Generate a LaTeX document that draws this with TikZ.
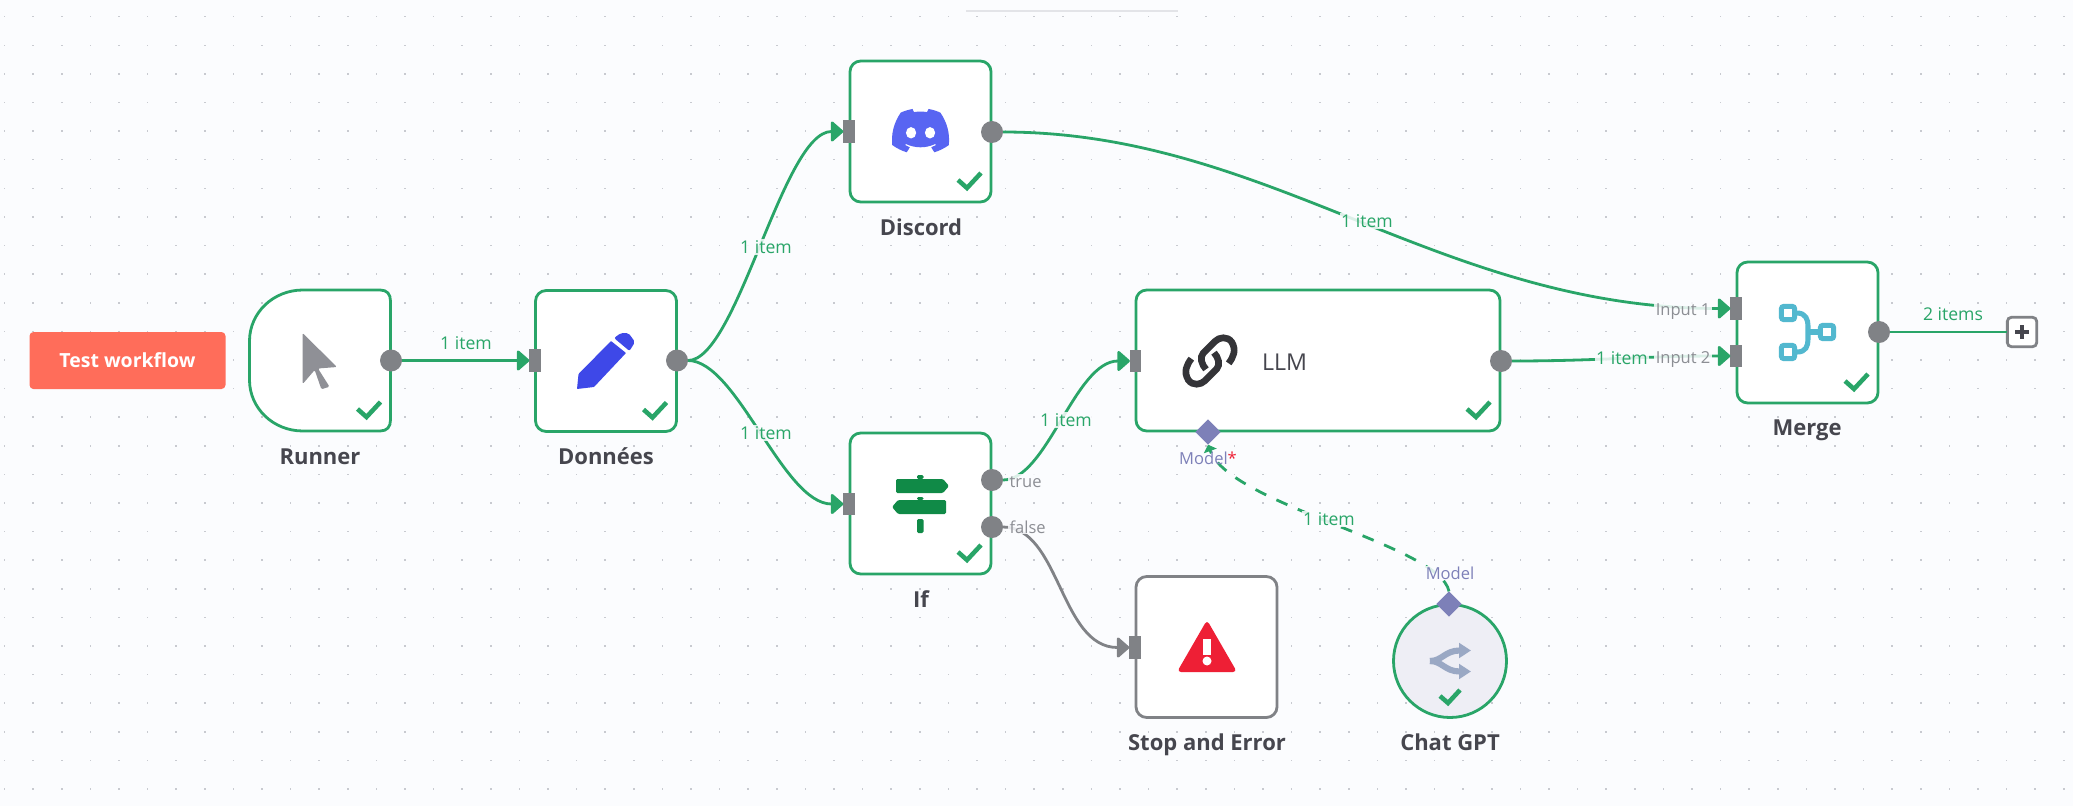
\documentclass[tikz,border=0pt]{standalone}
\usepackage{fontspec}
\setmainfont{Open Sans}
\usetikzlibrary{arrows.meta,shapes.geometric}
\definecolor{canvasbg}{RGB}{251,252,254}
\definecolor{griddot}{RGB}{200,202,208}
\definecolor{okgreen}{RGB}{41,165,104}
\definecolor{portgrey}{RGB}{128,130,134}
\definecolor{titledark}{RGB}{70,70,78}
\definecolor{portlabel}{RGB}{140,142,148}
\definecolor{modelblue}{RGB}{125,128,184}
\definecolor{btnred}{RGB}{255,109,90}
\definecolor{cursorgrey}{RGB}{143,144,150}
\definecolor{pencilblue}{RGB}{62,72,232}
\definecolor{discordblue}{RGB}{88,101,242}
\definecolor{signgreen}{RGB}{16,138,71}
\definecolor{alertred}{RGB}{238,31,53}
\definecolor{mergeblue}{RGB}{82,184,207}
\definecolor{splitblue}{RGB}{154,168,196}
\definecolor{chatfill}{RGB}{238,238,245}
\definecolor{linkdark}{RGB}{52,52,56}
\tikzset{
  nodebox/.style={draw=okgreen,line width=2.1pt,fill=white,rounded corners=8pt,minimum width=105.75pt,minimum height=105.75pt,outer sep=0pt,inner sep=0pt},
  outdot/.style={circle,fill=portgrey,minimum size=16.5pt,inner sep=0pt,outer sep=0pt},
  inbar/.style={rectangle,fill=portgrey,minimum width=8.5pt,minimum height=17pt,inner sep=0pt,outer sep=0pt},
  diamondport/.style={diamond,fill=modelblue,minimum size=19pt,inner sep=0pt,outer sep=0pt},
  wire/.style={draw=okgreen,line width=2.1pt,-{Triangle[length=10pt,width=17pt,round]}},
  title/.style={font=\bfseries\fontsize{16.5pt}{18pt}\selectfont,text=titledark,anchor=base,inner sep=0pt},
  itemlabel/.style={font=\fontsize{13.2pt}{15pt}\selectfont,text=okgreen,fill=canvasbg,fill opacity=0.85,text opacity=1,inner sep=1pt,text height=9.5pt,text depth=0pt},
  portname/.style={font=\fontsize{12.4pt}{14pt}\selectfont,text=portlabel,fill=canvasbg,fill opacity=0.85,text opacity=1,inner sep=1pt,text height=9pt,text depth=0pt},
  modelname/.style={portname,text=modelblue},
  checkline/.style={draw=okgreen,line width=3.4pt,line join=miter},
  mergesq/.style={draw=mergeblue,line width=3.8pt,fill=white,rounded corners=2pt,minimum size=10pt,inner sep=0pt,outer sep=0pt},
}
\begin{document}
\begin{tikzpicture}[x=0.75pt,y=0.75pt,yscale=-1,xscale=1]
  \fill[canvasbg] (0,0) rectangle (2073,806);
  \useasboundingbox (0,0) rectangle (2073,806);
  % grid of dots
  \foreach \i in {0,...,72}
    \foreach \j in {0,...,27}
      \fill[griddot] ({3.8+28.6*\i},{16+28.6*\j}) rectangle +(1.5,1.5);
  \draw[griddot!50,line width=1pt] (966,11) -- (1178,11);
  % button
  \node[fill=btnred,rounded corners=3pt,minimum width=147pt,minimum height=42.75pt,text=white,font=\bfseries\fontsize{14.6pt}{16pt}\selectfont] (testbtn) at (127.5,360.5) {Test workflow};
  % boxes
  \draw[draw=okgreen,line width=2.1pt,fill=white] (390.5,301) .. controls (390.5,294) and (387,290) .. (380,290) -- (303,290) .. controls (273,290) and (249.5,313) .. (249.5,341) -- (249.5,380) .. controls (249.5,408) and (273,431) .. (303,431) -- (380,431) .. controls (387,431) and (390.5,427) .. (390.5,420) -- cycle;
  \coordinate (runnerse) at (390.5,431);
  \node[nodebox] (donnees) at (606,361) {};
  \node[nodebox] (discord) at (920.5,131.5) {};
  \node[nodebox] (ifnode) at (920.5,503.5) {};
  \node[nodebox,draw=portgrey] (stopnode) at (1206.5,647) {};
  \node[nodebox,minimum width=273pt] (llm) at (1318,360.5) {};
  \node[nodebox] (merge) at (1807.5,332.5) {};
  \node[circle,draw=okgreen,line width=2.1pt,fill=chatfill,minimum size=84.75pt,inner sep=0pt,outer sep=0pt] (chatgpt) at (1450,661) {};
  % ports
  \node[outdot] (runnerout) at (391,360.5) {};
  \node[inbar] (donneesin) at (535,360.5) {};
  \node[outdot] (donneesout) at (677,360.5) {};
  \node[inbar] (discordin) at (849,131.5) {};
  \node[outdot] (discordout) at (992,132) {};
  \node[inbar] (ifin) at (849,504) {};
  \node[outdot] (iftrue) at (992,480) {};
  \node[outdot] (iffalse) at (992,527) {};
  \node[inbar] (stopin) at (1135,647.5) {};
  \node[inbar] (llmin) at (1135.5,361) {};
  \node[outdot] (llmout) at (1501,361) {};
  \node[diamondport] (llmmodel) at (1208,432) {};
  \node[diamondport] (chatmodel) at (1449,604) {};
  \node[inbar] (mergeone) at (1736,308.5) {};
  \node[inbar] (mergetwo) at (1736,356) {};
  \node[outdot] (mergeout) at (1879,332) {};
  \node[draw=portgrey,line width=2.1pt,fill=white,rounded corners=3pt,minimum size=22pt,inner sep=0pt,outer sep=0pt] (addbtn) at (2022,332) {};
  % connectors
  \draw[wire] (runnerout.east) -- (donneesin.west);
  \draw[wire] (donneesout.east) .. controls (737,360.5) and (783,131.5) .. (discordin.west);
  \draw[wire] (donneesout.east) .. controls (737,360.5) and (783,504) .. (ifin.west);
  \draw[wire] (iftrue.east) .. controls (1047,480) and (1075,361) .. (llmin.west);
  \draw[wire,draw=portgrey] (iffalse.east) .. controls (1060,527) and (1060,647.5) .. (stopin.west);
  \draw[wire] (discordout.east) .. controls (1270,132) and (1440,308.5) .. (mergeone.west);
  \draw[wire] (llmout.east) .. controls (1600,361) and (1640,356) .. (mergetwo.west);
  \draw[okgreen,line width=2.1pt] (mergeout.east) -- (addbtn.west);
  \draw[okgreen,line width=2.1pt,dash pattern=on 9pt off 8.5pt,-{Triangle[length=5pt,width=10pt]}] (chatmodel.north) .. controls (1440,545) and (1230,505) .. (llmmodel.south);
  % labels on connectors
  \node[itemlabel,fill opacity=0] (labrunner) at (466,343) {1 item};
  \node[itemlabel] (labdiscord) at (766,247) {1 item};
  \node[itemlabel] (labif) at (766,433) {1 item};
  \node[itemlabel] (labtrue) at (1066,420) {1 item};
  \node[itemlabel] (labllm) at (1622,358) {1 item};
  \node[itemlabel] (labmerge) at (1367,221) {1 item};
  \node[itemlabel] (labmodel) at (1329,519) {1 item};
  \node[itemlabel,fill opacity=0] (labtwo) at (1953,314) {2 items};
  \node[portname,anchor=west] (namedtrue) at (1008,481) {true};
  \node[portname,anchor=west] (namedfalse) at (1008,527) {false};
  \node[portname,anchor=east] (nameone) at (1712,309) {Input 1};
  \node[portname,anchor=east] (nametwo) at (1712,357) {Input 2};
  \node[modelname,fill opacity=0] (modelllm) at (1208,458) {Model\textcolor{alertred}{*}};
  \node[modelname] (modelchat) at (1450,573) {Model};
  % titles
  \node[title] (runnertitle) at (320,464) {Runner};
  \node[title] (donneestitle) at (606,464) {Données};
  \node[title] (discordtitle) at (921,235) {Discord};
  \node[title] (iftitle) at (921,607) {If};
  \node[title] (stoptitle) at (1207,750) {Stop and Error};
  \node[title] (chattitle) at (1450,750) {Chat GPT};
  \node[title] (mergetitle) at (1807,435) {Merge};
  \node[font=\fontsize{17.4pt}{18pt}\selectfont,text=titledark,inner sep=0pt] (llmtitle) at (1284.5,362) {LLM};
  % check marks
  \foreach \c in {runnerse,donnees.south east,discord.south east,ifnode.south east,llm.south east,merge.south east}
    \draw[checkline] ([xshift=-24.75pt,yshift=-16.5pt]\c) -- ([xshift=-18pt,yshift=-10.5pt]\c) -- ([xshift=-7.5pt,yshift=-21.75pt]\c);
  \draw[checkline] (1440,696) -- (1448,703) -- (1460,690);
  % runner icon
  \fill[cursorgrey,rounded corners=1pt] (302.5,333) -- (337,367) -- (318,368.5) -- (329.5,386.7) -- (321.4,389.3) -- (314.7,370) -- (302.7,384) -- cycle;
  % pencil icon
  \fill[pencilblue,rounded corners=0.5pt] (577,389) -- (578.5,374) -- (611,341) -- (626,353) -- (594,387) -- cycle;
  \fill[pencilblue,rounded corners=1.5pt] (614,338) -- (621,333) -- (628.5,333) -- (635,342) -- (629.5,351) -- cycle;
  % discord icon
  \begin{scope}[shift={(892,109)},scale=0.449]
    \fill[discordblue] (107.7,8.07) .. controls (99.5,4.3) and (90.7,1.6) .. (81.47,0) .. controls (80.2,2.2) and (79,4.5) .. (78.11,6.83) .. controls (68.4,5.4) and (58.6,5.4) .. (49,6.83) .. controls (48.1,4.5) and (46.9,2.2) .. (45.64,0) .. controls (36.5,1.6) and (27.6,4.3) .. (19.39,8.09) .. controls (2.79,32.65) and (-1.71,56.6) .. (0.54,80.21) .. controls (10.3,87.4) and (21.2,92.9) .. (32.71,96.36) .. controls (35.3,92.9) and (37.6,89.2) .. (39.6,85.25) .. controls (35.8,83.8) and (32.2,82.1) .. (28.75,80.07) .. controls (29.66,79.41) and (30.55,78.73) .. (31.41,78.07) .. controls (51.8,87.7) and (75.3,87.7) .. (95.73,78.07) .. controls (96.6,78.78) and (97.49,79.46) .. (98.39,80.07) .. controls (94.9,82.1) and (91.3,83.9) .. (87.52,85.26) .. controls (89.5,89.2) and (91.8,92.9) .. (94.41,96.36) .. controls (105.9,92.9) and (116.8,87.4) .. (126.6,80.22) .. controls (129.24,52.84) and (122.09,29.11) .. (107.7,8.07) -- cycle;
    \fill[white] (42.45,53) ellipse (11.4 and 12.7);
    \fill[white] (84.69,53) ellipse (11.4 and 12.7);
  \end{scope}
  % if icon
  \fill[signgreen,rounded corners=1pt] (896,479) -- (943,479) -- (949,486) -- (943,493) -- (896,493) -- cycle;
  \fill[signgreen,rounded corners=1pt] (898,500) -- (946,500) -- (946,514) -- (898,514) -- (892,507) -- cycle;
  \fill[signgreen,rounded corners=1pt] (917,475) rectangle (923.5,479);
  \fill[signgreen,rounded corners=1pt] (917,497) rectangle (923.5,500);
  \fill[signgreen,rounded corners=1pt] (917,519) rectangle (923.5,533);
  % stop icon
  \fill[alertred,rounded corners=3pt] (1207,620) -- (1237,672) -- (1177,672) -- cycle;
  \fill[white] (1202.5,639) rectangle (1211,655);
  \fill[white] (1207,661) circle (4.5);
  % link icon
  \begin{scope}[shift={(1170,322)},scale=0.3333,line width=5pt,draw=linkdark]
    \draw (176,124) .. controls (190,105) and (200,85) .. (185,60) .. controls (172,42) and (148,45) .. (135,58) -- (100,93) .. controls (88,106) and (95,128) .. (108,142);
    \draw (64,110) .. controls (50,129) and (40,149) .. (55,174) .. controls (68,192) and (92,189) .. (105,176) -- (140,141) .. controls (152,128) and (145,106) .. (132,92);
  \end{scope}
  % merge icon
  \draw[mergeblue,line width=3.8pt] (1797,313) .. controls (1806,313) and (1808,320) .. (1808,326) -- (1808,339) .. controls (1808,346) and (1806,352) .. (1797,352);
  \draw[mergeblue,line width=3.8pt] (1808,332) -- (1818,332);
  \node[mergesq] (mergetop) at (1788,313) {};
  \node[mergesq] (mergeright) at (1827,332) {};
  \node[mergesq] (mergelow) at (1788,352) {};
  % chat icon
  \draw[splitblue,line width=4.6pt,-{Triangle[length=9pt,width=11pt]}] (1430,661) .. controls (1442,661) and (1445,650.5) .. (1471,650.5);
  \draw[splitblue,line width=4.6pt,-{Triangle[length=9pt,width=11pt]}] (1430,661) .. controls (1442,661) and (1445,671.5) .. (1471,671.5);
  % plus of the add button
  \draw[titledark,line width=2.4pt] (2015,332) -- (2029,332) (2022,325) -- (2022,339);
\end{tikzpicture}
\end{document}
